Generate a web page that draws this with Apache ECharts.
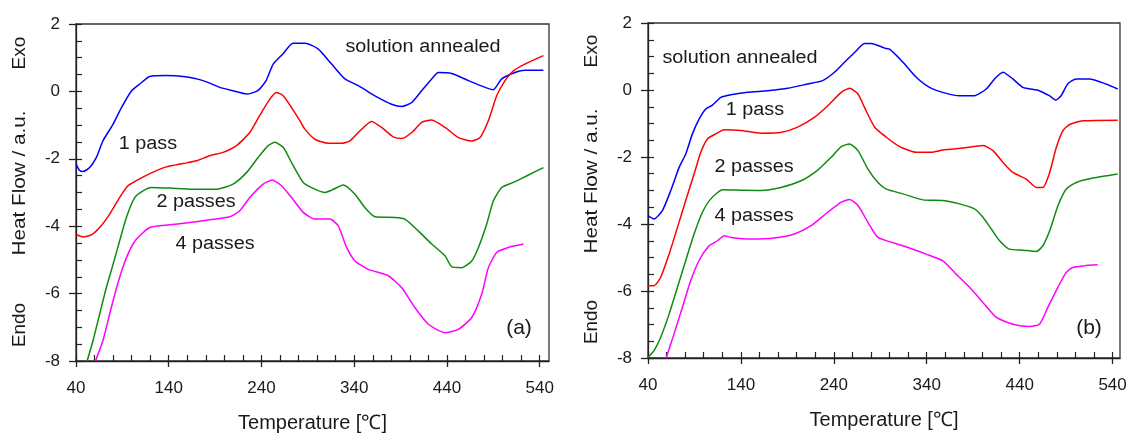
<!DOCTYPE html>
<html>
<head>
<meta charset="utf-8">
<script src="https://cdn.jsdelivr.net/npm/echarts@6/dist/echarts.min.js"></script>
<style>
html,body{margin:0;padding:0;background:#fff;}
#chart{width:1133px;height:442px;}
</style>
</head>
<body>
<div id="chart"></div>
<script>
// ---------- data (Temperature [°C], Heat Flow [a.u.]) ----------
const xTicks = [40, 140, 240, 340, 440, 540];
const xMinorTicks = [40,60,80,100,120,140,160,180,200,220,240,260,280,300,320,340,360,380,400,420,440,460,480,500,520,540];
const yTicks = [-8, -6, -4, -2, 0, 2];
const yMinorTicks = [-8,-7.5,-7,-6.5,-6,-5.5,-5,-4.5,-4,-3.5,-3,-2.5,-2,-1.5,-1,-0.5,0,0.5,1,1.5,2];

// panel (a)
const aSolution = [[40,-2.16],[44,-2.35],[47.5,-2.38],[54.7,-2.26],[62,-1.96],[69,-1.47],[80,-0.97],[89,-0.48],[100,0.02],[108.7,0.22],[119.5,0.44],[137.5,0.47],[155.5,0.44],[177,0.32],[195,0.12],[209,0.02],[224,-0.08],[236,0.02],[245,0.32],[252.6,0.81],[263,1.11],[274,1.43],[287,1.43],[301,1.26],[315.6,0.81],[330,0.37],[344.4,0.17],[362.3,-0.13],[380.3,-0.38],[391,-0.45],[402,-0.33],[412.7,0.02],[423.5,0.37],[430.7,0.56],[445,0.53],[463,0.32],[481,0.12],[490,0.05],[499,0.37],[513.4,0.56],[524,0.63],[544,0.63]];
const aPass1 = [[40,-4.24],[47.5,-4.32],[56.5,-4.26],[65.5,-4.04],[76.3,-3.64],[87,-3.15],[96,-2.8],[105,-2.65],[119.5,-2.44],[137.5,-2.24],[155.5,-2.14],[170,-2.06],[184,-1.91],[198.6,-1.81],[213,-1.61],[227.4,-1.22],[238,-0.72],[249,-0.23],[256,-0.03],[263.4,-0.13],[272.4,-0.48],[281.4,-0.87],[286.8,-1.12],[297.6,-1.42],[312,-1.54],[326.4,-1.54],[335.4,-1.47],[344.4,-1.22],[358.7,-0.89],[369.5,-1.07],[382,-1.35],[391,-1.4],[402,-1.22],[412.7,-0.92],[423.5,-0.85],[437.9,-1.07],[452.3,-1.37],[466.7,-1.47],[475.6,-1.37],[484.6,-0.87],[493.6,-0.13],[502.6,0.32],[511.6,0.61],[524,0.81],[544,1.06]];
const aPass2 = [[52,-8.0],[58.3,-7.4],[65.5,-6.61],[72.7,-5.82],[80,-5.13],[87,-4.44],[94.3,-3.74],[103.3,-3.15],[112.3,-2.95],[121.3,-2.85],[141,-2.87],[166.3,-2.9],[191.4,-2.9],[209.4,-2.75],[223.8,-2.41],[236.4,-1.96],[247.2,-1.61],[254.4,-1.51],[263.4,-1.66],[272.4,-2.11],[285,-2.7],[297.6,-2.9],[308.4,-3.0],[315.6,-2.93],[328,-2.78],[340.8,-3.05],[351.5,-3.45],[362.3,-3.72],[384,-3.74],[394.7,-3.79],[409,-4.14],[423.5,-4.53],[437.9,-4.88],[445,-5.2],[455.9,-5.23],[466.7,-5.03],[473.9,-4.63],[482.8,-3.94],[490,-3.25],[499,-2.85],[511.6,-2.7],[527.8,-2.48],[544,-2.26]];
const aPass4 = [[61,-8.0],[69,-7.4],[78,-6.42],[87,-5.52],[96,-4.83],[105,-4.39],[119.5,-4.04],[141,-3.96],[162.7,-3.89],[184,-3.81],[205.8,-3.72],[216.6,-3.54],[227.4,-3.15],[241.8,-2.75],[251.5,-2.63],[261.6,-2.8],[272.4,-3.15],[285,-3.59],[297.6,-3.79],[313.8,-3.79],[322.8,-3.99],[331.8,-4.63],[340.8,-5.03],[355.1,-5.28],[376.7,-5.47],[391,-5.82],[405.5,-6.42],[420,-6.91],[437.9,-7.16],[452.3,-7.06],[466.7,-6.71],[477.4,-6.02],[484.6,-5.23],[493.6,-4.78],[506.2,-4.63],[522.4,-4.53]];

// panel (b)
const bSolution = [[40,-3.75],[46.5,-3.85],[55.5,-3.6],[64.5,-3.0],[73.5,-2.31],[80.6,-1.91],[87.8,-1.31],[95,-0.87],[102.2,-0.57],[109.4,-0.45],[118.4,-0.22],[129.2,-0.14],[147.2,-0.07],[168.8,-0.02],[190.4,0.05],[212,0.18],[228,0.28],[240.7,0.53],[251.5,0.83],[262.3,1.12],[273,1.39],[280.3,1.39],[294.7,1.25],[300,1.22],[314.4,0.83],[328.7,0.38],[343,0.08],[361,-0.1],[375.3,-0.17],[391.4,-0.17],[404,0.03],[413,0.33],[422,0.53],[432.7,0.33],[443.5,0.08],[461,-0.02],[472,-0.17],[479,-0.3],[484.6,-0.17],[491.7,0.18],[500.7,0.33],[515,0.33],[533,0.18],[545.5,0.03]];
const bPass1 = [[40,-5.84],[46.5,-5.84],[53.7,-5.59],[62.7,-4.9],[71.7,-4.1],[80.6,-3.3],[89.6,-2.51],[96.8,-1.86],[104,-1.46],[113,-1.31],[122,-1.19],[140,-1.21],[161.6,-1.29],[183,-1.27],[201,-1.11],[219,-0.82],[233.5,-0.47],[248,-0.07],[257,0.05],[266,-0.12],[273,-0.52],[284,-1.11],[296.5,-1.41],[310.8,-1.69],[328.7,-1.86],[344.8,-1.86],[357.4,-1.79],[379,-1.73],[400.5,-1.66],[411.3,-1.81],[422,-2.16],[432.7,-2.46],[447,-2.66],[458,-2.91],[465,-2.91],[472.3,-2.46],[479.5,-1.71],[486.6,-1.21],[493.8,-1.03],[508,-0.92],[545.5,-0.9]];
const bPass2 = [[40,-7.98],[46.5,-7.78],[53.7,-7.38],[62.7,-6.69],[71.7,-5.89],[80.6,-5.09],[89.6,-4.3],[98.6,-3.65],[107.6,-3.25],[120.2,-2.98],[140,-2.99],[161.6,-3.0],[183,-2.91],[204.7,-2.71],[222.7,-2.39],[237,-2.01],[248,-1.69],[257,-1.61],[266,-1.81],[276.7,-2.36],[287.5,-2.76],[296.5,-2.96],[314.4,-3.1],[336,-3.28],[357.4,-3.3],[375.3,-3.4],[391.4,-3.55],[400.5,-3.8],[409.5,-4.15],[418.4,-4.5],[429,-4.75],[443.5,-4.78],[458,-4.82],[465,-4.65],[472.3,-4.2],[481.3,-3.45],[490,-2.96],[501,-2.76],[519,-2.63],[545.5,-2.51]];
const bPass4 = [[59.5,-8.0],[68,-7.28],[77,-6.49],[86,-5.69],[95,-5.09],[105.8,-4.65],[114.8,-4.5],[122,-4.35],[129.2,-4.4],[150.8,-4.45],[176,-4.42],[197.6,-4.3],[215.5,-4.05],[233.5,-3.65],[248,-3.35],[257,-3.27],[266,-3.45],[276.7,-3.95],[287.5,-4.4],[314.4,-4.65],[339.5,-4.9],[357.4,-5.1],[371.7,-5.5],[386,-5.89],[400.5,-6.34],[415,-6.79],[432.7,-6.99],[450.6,-7.06],[461.4,-6.99],[470.3,-6.49],[481.1,-5.89],[490,-5.45],[497,-5.3],[509.6,-5.25],[524,-5.22]];

const seriesNames = ['solution annealed', '1 pass', '2 passes', '4 passes'];
const seriesColors = ['#0000ff', '#ff0000', '#108a10', '#ff00ff'];

// ---------- chart ----------
const FONT = "'Liberation Sans', Arial, Helvetica, sans-serif";
const TXT = '#1a1a1a';
const chart = echarts.init(document.getElementById('chart'), null, {renderer: 'canvas'});

const panels = [
  {grid: {left: 76, top: 24, width: 473, height: 337}, xMax: 550, data: [aSolution, aPass1, aPass2, aPass4]},
  {grid: {left: 648, top: 23, width: 472, height: 335}, xMax: 548, data: [bSolution, bPass1, bPass2, bPass4]}
];

const grids = [], xAxes = [], yAxes = [], series = [];
panels.forEach((p, i) => {
  grids.push(Object.assign({show: true, borderColor: '#333', borderWidth: 1.3, backgroundColor: 'transparent'}, p.grid));
  // primary axes (labels, outward major ticks)
  xAxes.push({
    type: 'value', gridIndex: i, min: 40, max: p.xMax, position: 'bottom',
    name: 'Temperature [℃]', nameLocation: 'middle', nameGap: 52,
    nameTextStyle: {fontFamily: FONT, fontSize: 20, color: TXT},
    axisLine: {show: true, onZero: false, lineStyle: {color: '#222', width: 1.3}},
    axisTick: {show: true, inside: false, length: 6, customValues: xTicks, lineStyle: {color: '#222', width: 1.3}},
    axisLabel: {show: true, customValues: xTicks, margin: 19, fontFamily: FONT, fontSize: 17, color: TXT},
    splitLine: {show: false}
  });
  yAxes.push({
    type: 'value', gridIndex: i, min: -8, max: 2, position: 'left',
    axisLine: {show: true, onZero: false, lineStyle: {color: '#222', width: 1.3}},
    axisTick: {show: true, inside: false, length: 7, customValues: yTicks, lineStyle: {color: '#222', width: 1.3}},
    axisLabel: {show: true, customValues: yTicks, margin: 16, fontFamily: FONT, fontSize: 17, color: TXT},
    splitLine: {show: false}
  });
  // secondary axes (inward ticks, every minor step)
  xAxes.push({
    type: 'value', gridIndex: i, min: 40, max: p.xMax, position: 'bottom',
    axisLine: {show: false, onZero: false},
    axisTick: {show: true, inside: true, length: 6, customValues: xMinorTicks, lineStyle: {color: '#222', width: 1.2}},
    axisLabel: {show: false}, splitLine: {show: false}
  });
  yAxes.push({
    type: 'value', gridIndex: i, min: -8, max: 2, position: 'left',
    axisLine: {show: false, onZero: false},
    axisTick: {show: true, inside: true, length: 6, customValues: yMinorTicks, lineStyle: {color: '#222', width: 1.2}},
    axisLabel: {show: false}, splitLine: {show: false}
  });
  p.data.forEach((d, k) => {
    series.push({
      type: 'line', name: seriesNames[k] + (i === 0 ? ' (a)' : ' (b)'),
      xAxisIndex: i * 2, yAxisIndex: i * 2,
      data: d, showSymbol: false, symbol: 'none', smooth: 0.2,
      lineStyle: {color: seriesColors[k], width: 1.5},
      itemStyle: {color: seriesColors[k]},
      clip: true, silent: true
    });
  });
});

function label(text, x, y, size, opts) {
  return Object.assign({
    type: 'text', x: x, y: y,
    style: {text: text, fontFamily: FONT, fontSize: size, fill: TXT, align: 'center', verticalAlign: 'middle'}
  }, opts || {});
}
const R = Math.PI / 2;
const graphics = [
  // panel (a)
  label('Exo', 20, 53, 18, {rotation: R, scaleX: 1.06}),
  label('Heat Flow / a.u.', 20, 183, 18, {rotation: R, scaleX: 1.15}),
  label('Endo', 20, 325, 18, {rotation: R, scaleX: 1.05}),
  label('solution annealed', 423, 47, 18, {scaleX: 1.1}),
  label('1 pass', 148, 144, 18, {scaleX: 1.1}),
  label('2 passes', 196, 202, 18, {scaleX: 1.1}),
  label('4 passes', 215, 244, 18, {scaleX: 1.1}),
  label('(a)', 519, 328, 21),
  // panel (b)
  label('Exo', 592, 51, 18, {rotation: R, scaleX: 1.06}),
  label('Heat Flow / a.u.', 592, 181, 18, {rotation: R, scaleX: 1.15}),
  label('Endo', 592, 322, 18, {rotation: R, scaleX: 1.05}),
  label('solution annealed', 740, 58, 18, {scaleX: 1.1}),
  label('1 pass', 755, 110, 18, {scaleX: 1.1}),
  label('2 passes', 754, 167, 18, {scaleX: 1.1}),
  label('4 passes', 754, 216, 18, {scaleX: 1.1}),
  label('(b)', 1089, 328, 21)
];

chart.setOption({
  animation: false,
  backgroundColor: '#ffffff',
  grid: grids,
  xAxis: xAxes,
  yAxis: yAxes,
  series: series,
  graphic: graphics
});
</script>
</body>
</html>
